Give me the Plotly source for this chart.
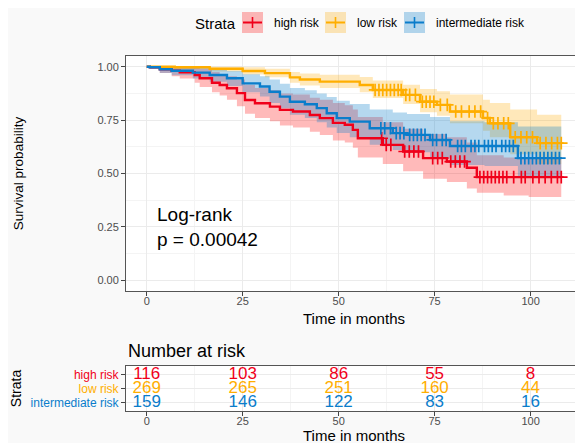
import numpy as np
import plotly.graph_objects as go

W, H = 583, 443
FONT = "Liberation Sans, Arial, Helvetica, sans-serif"

# ---------------- data ----------------
strata = ["high risk", "low risk", "intermediate risk"]
line_colors = ["#F0001A", "#FFAE00", "#0A7DCB"]
fill_colors = ["rgba(255,0,0,0.27)", "rgba(255,170,0,0.27)", "rgba(10,125,203,0.30)"]

# high risk: step times, survival, lower CI, upper CI, censor times
high_t = [0, 0.8, 3.4, 6.5, 8.6, 12.5, 13.8, 17, 19, 20.9, 23.5, 25.6, 28.2, 32.1, 34.7, 38.1,
          42.5, 45.1, 48.5, 51.6, 53.7, 55, 61.5, 66.8, 72, 78.2, 83.4, 86, 93, 99.5, 108]
high_s = [1.0, 0.997, 0.988, 0.981, 0.974, 0.961, 0.946, 0.925, 0.914, 0.899, 0.876, 0.844, 0.829,
          0.813, 0.798, 0.79, 0.774, 0.759, 0.737, 0.728, 0.704, 0.665, 0.634, 0.603, 0.572, 0.556,
          0.527, 0.483, 0.483, 0.483, 0.483]
high_lo = [1.0, 0.99, 0.97, 0.955, 0.945, 0.925, 0.905, 0.88, 0.865, 0.845, 0.815, 0.78, 0.76,
           0.745, 0.725, 0.715, 0.695, 0.68, 0.655, 0.645, 0.62, 0.575, 0.545, 0.51, 0.475, 0.46,
           0.43, 0.41, 0.397, 0.39, 0.39]
high_hi = [1.0, 1.0, 1.0, 1.0, 1.0, 0.995, 0.99, 0.975, 0.965, 0.955, 0.94, 0.915, 0.9, 0.89,
           0.875, 0.87, 0.855, 0.845, 0.83, 0.82, 0.8, 0.765, 0.74, 0.71, 0.685, 0.67, 0.645,
           0.585, 0.575, 0.575, 0.575]
high_cens = [61.2, 62.4, 63.6, 67.2, 68.4, 69.6, 70.8, 74.5, 75.8, 77.0, 79.2, 80.4, 81.6, 82.8,
             86.8, 87.8, 88.8, 89.8, 90.8, 91.8, 92.8, 93.8, 95.6, 97.6, 98.6, 100.6, 102.2,
             103.8, 105.4, 107.0, 108.0]

# low risk
low_t = [0, 7.3, 16.4, 25, 30.8, 37.3, 39.9, 45.1, 55.5, 58.9, 66.8, 71.2, 75.6, 79, 87.6, 89.4,
         94.7, 101.7, 108]
low_s = [1.0, 0.997, 0.99, 0.98, 0.97, 0.95, 0.94, 0.93, 0.914, 0.891, 0.868, 0.836, 0.821, 0.79,
         0.76, 0.735, 0.67, 0.642, 0.642]
low_lo = [1.0, 0.99, 0.978, 0.963, 0.95, 0.925, 0.912, 0.9, 0.88, 0.853, 0.825, 0.787, 0.77, 0.735,
          0.7, 0.67, 0.59, 0.545, 0.545]
low_hi = [1.0, 1.0, 1.0, 0.997, 0.99, 0.975, 0.968, 0.962, 0.952, 0.935, 0.915, 0.895, 0.885,
          0.87, 0.845, 0.83, 0.8, 0.775, 0.775]
low_cens = [59.5, 60.5, 61.5, 62.5, 63.5, 64.5, 65.5, 66.3, 67.5, 68.5, 70, 71.8, 72.8, 73.8, 74.8,
            76.5, 78.3, 80.5, 82, 84, 85.5, 87, 88.8, 90.3, 91.5, 93, 94.2, 96, 97.5, 99, 100.5,
            102.5, 104, 105.5, 107, 108]

# intermediate risk
int_t = [0, 0.8, 3.4, 6.5, 12, 16.4, 20.9, 25, 29.5, 32, 34.7, 37.3, 41.2, 44.3, 46.9, 49.5, 52.9,
         58.1, 64.1, 67.8, 73.8, 79, 88, 96.7, 108]
int_s = [1.0, 0.997, 0.988, 0.981, 0.972, 0.961, 0.946, 0.922, 0.907, 0.883, 0.86, 0.836, 0.824,
         0.806, 0.782, 0.759, 0.743, 0.712, 0.689, 0.681, 0.657, 0.629, 0.629, 0.572, 0.572]
int_lo = [1.0, 0.99, 0.97, 0.96, 0.945, 0.93, 0.91, 0.88, 0.86, 0.83, 0.805, 0.775, 0.76, 0.74,
          0.715, 0.69, 0.67, 0.635, 0.61, 0.6, 0.57, 0.54, 0.535, 0.485, 0.485]
int_hi = [1.0, 1.0, 1.0, 1.0, 1.0, 0.99, 0.98, 0.965, 0.955, 0.94, 0.92, 0.9, 0.89, 0.875, 0.858,
          0.84, 0.825, 0.8, 0.785, 0.778, 0.765, 0.745, 0.74, 0.72, 0.72]
int_cens = [61, 62, 63.5, 65, 66, 67, 68.5, 69.5, 70.5, 71.5, 72.5, 74.5, 75.5, 77, 78, 81, 82, 83,
            84.5, 85.5, 86.5, 88, 89, 90, 91, 92.5, 93.5, 94.5, 95.5, 97.5, 98.5, 99.5, 100.5,
            101.5, 102.5, 103.5, 104.5, 105.5, 106.5, 107.5]

# number at risk table
risk_times = [0, 25, 50, 75, 100]
risk_high = [116, 103, 86, 55, 8]
risk_low = [269, 265, 251, 160, 44]
risk_int = [159, 146, 122, 83, 16]

x_ticks = [0, 25, 50, 75, 100]
y_ticks = [0, 0.25, 0.5, 0.75, 1.0]
y_ticklabels = ["0.00", "0.25", "0.50", "0.75", "1.00"]
pval_text = "Log-rank<br>p = 0.00042"

curves = [
    (high_t, high_s, high_lo, high_hi, high_cens),
    (low_t, low_s, low_lo, low_hi, low_cens),
    (int_t, int_s, int_lo, int_hi, int_cens),
]

fig = go.Figure()

# confidence bands
for (t, s, lo, hi, cens), fc in zip(curves, fill_colors):
    fig.add_trace(go.Scatter(x=t, y=lo, mode="lines", line=dict(width=0, shape="hv"),
                             showlegend=False, hoverinfo="skip", xaxis="x", yaxis="y"))
    fig.add_trace(go.Scatter(x=t, y=hi, mode="lines", line=dict(width=0, shape="hv"),
                             fill="tonexty", fillcolor=fc, showlegend=False, hoverinfo="skip",
                             xaxis="x", yaxis="y"))

# survival curves + censor marks
for (t, s, lo, hi, cens), lc, name in zip(curves, line_colors, strata):
    fig.add_trace(go.Scatter(x=t, y=s, mode="lines", line=dict(color=lc, width=2.4, shape="hv"),
                             name=name, showlegend=False, xaxis="x", yaxis="y"))
    ta = np.array(t)
    idx = np.searchsorted(ta, np.array(cens), side="right") - 1
    cy = [s[i] for i in idx]
    fig.add_trace(go.Scatter(x=cens, y=cy, mode="markers",
                             marker=dict(symbol="cross-thin", size=9,
                                         line=dict(color=lc, width=1.7)),
                             showlegend=False, xaxis="x", yaxis="y"))

# risk table text
risk_rows = [risk_high, risk_low, risk_int]
row_pos = [3, 2, 1]
for vals, pos, lc in zip(risk_rows, row_pos, line_colors):
    fig.add_trace(go.Scatter(x=risk_times, y=[pos] * len(risk_times), mode="text",
                             text=[str(v) for v in vals],
                             textfont=dict(family=FONT, size=17, color=lc),
                             textposition="middle center", showlegend=False,
                             xaxis="x2", yaxis="y2"))

# page is shown with an 8px body margin: convert screen px to figure paper coords
OFF = 8

def PX(x):
    return (x - OFF) / W

def PY(y):
    return 1 - (y - OFF) / H

xdom = [PX(126), PX(582)]
axis_common = dict(
    showline=True, linecolor="#555555", linewidth=1, mirror=True,
    ticks="outside", ticklen=4, tickcolor="#444444", tickwidth=1,
    tickfont=dict(family=FONT, size=11, color="#4D4D4D"),
    gridcolor="#EBEBEB", gridwidth=1, zeroline=False, automargin=False,
)

fig.update_layout(
    width=W, height=H,
    margin=dict(l=0, r=0, t=0, b=0),
    paper_bgcolor="#F9F9F9", plot_bgcolor="white",
    font=dict(family=FONT, color="black"),
    showlegend=False,
    xaxis=dict(domain=xdom, range=[-5.4, 113.4], tickvals=x_ticks, anchor="y",
               ticklabelstandoff=-4,
               title=dict(text="Time in months", font=dict(size=15, color="black"), standoff=7),
               minor=dict(dtick=12.5, tick0=0, showgrid=True, gridcolor="#F4F4F4", ticks=""),
               **axis_common),
    yaxis=dict(domain=[PY(291), PY(56)], range=[-0.05, 1.05], tickvals=y_ticks,
               ticktext=y_ticklabels, anchor="x",
               title=dict(text="Survival probability", font=dict(size=13.5, color="black"),
                          standoff=70),
               minor=dict(dtick=0.125, tick0=0, showgrid=True, gridcolor="#F4F4F4", ticks=""),
               **axis_common),
    xaxis2=dict(domain=xdom, range=[-5.4, 113.4], tickvals=x_ticks, anchor="y2",
                ticklabelstandoff=-4,
                title=dict(text="Time in months", font=dict(size=15, color="black"), standoff=2),
                minor=dict(dtick=12.5, tick0=0, showgrid=True, gridcolor="#F4F4F4", ticks=""),
                **axis_common),
    yaxis2=dict(domain=[PY(411), PY(366)], range=[0.4, 3.6], tickvals=row_pos,
                ticktext=[f"<span style='color:{c}'>{n}</span>" for n, c in zip(strata, line_colors)],
                anchor="x2",
                title=dict(text="Strata", font=dict(size=14, color="black"), standoff=5),
                **{**axis_common, "tickfont": dict(family=FONT, size=12)}),
)

# p-value annotation
fig.add_annotation(x=2.2, y=0.25, xref="x", yref="y", text=pval_text, showarrow=False,
                   xanchor="left", yanchor="middle", align="left",
                   font=dict(family=FONT, size=19, color="black"))

# risk table title
fig.add_annotation(x=PX(126), y=PY(351), xref="paper", yref="paper", text="Number at risk",
                   showarrow=False, xanchor="left", yanchor="middle",
                   font=dict(family=FONT, size=18, color="black"))

# legend (drawn manually: ggplot-style keys)
fig.add_annotation(x=PX(193), y=PY(23), xref="paper", yref="paper", text="Strata",
                   showarrow=False, xanchor="left", yanchor="middle",
                   font=dict(family=FONT, size=15, color="black"))
key_x = [242, 325, 404]
for kx, lc, fc, name in zip(key_x, line_colors, fill_colors, strata):
    fig.add_shape(type="rect", xref="paper", yref="paper", x0=PX(kx), x1=PX(kx + 21),
                  y0=PY(33), y1=PY(12), fillcolor=fc, line=dict(width=0))
    fig.add_shape(type="line", xref="paper", yref="paper", x0=PX(kx + 1), x1=PX(kx + 20),
                  y0=PY(22.5), y1=PY(22.5), line=dict(color=lc, width=2))
    fig.add_shape(type="line", xref="paper", yref="paper", x0=PX(kx + 10.5), x1=PX(kx + 10.5),
                  y0=PY(17), y1=PY(28), line=dict(color=lc, width=1.6))
    fig.add_annotation(x=PX(kx + 30), y=PY(23), xref="paper", yref="paper", text=name,
                       showarrow=False, xanchor="left", yanchor="middle",
                       font=dict(family=FONT, size=12, color="black"))

fig.write_html("out.html")
